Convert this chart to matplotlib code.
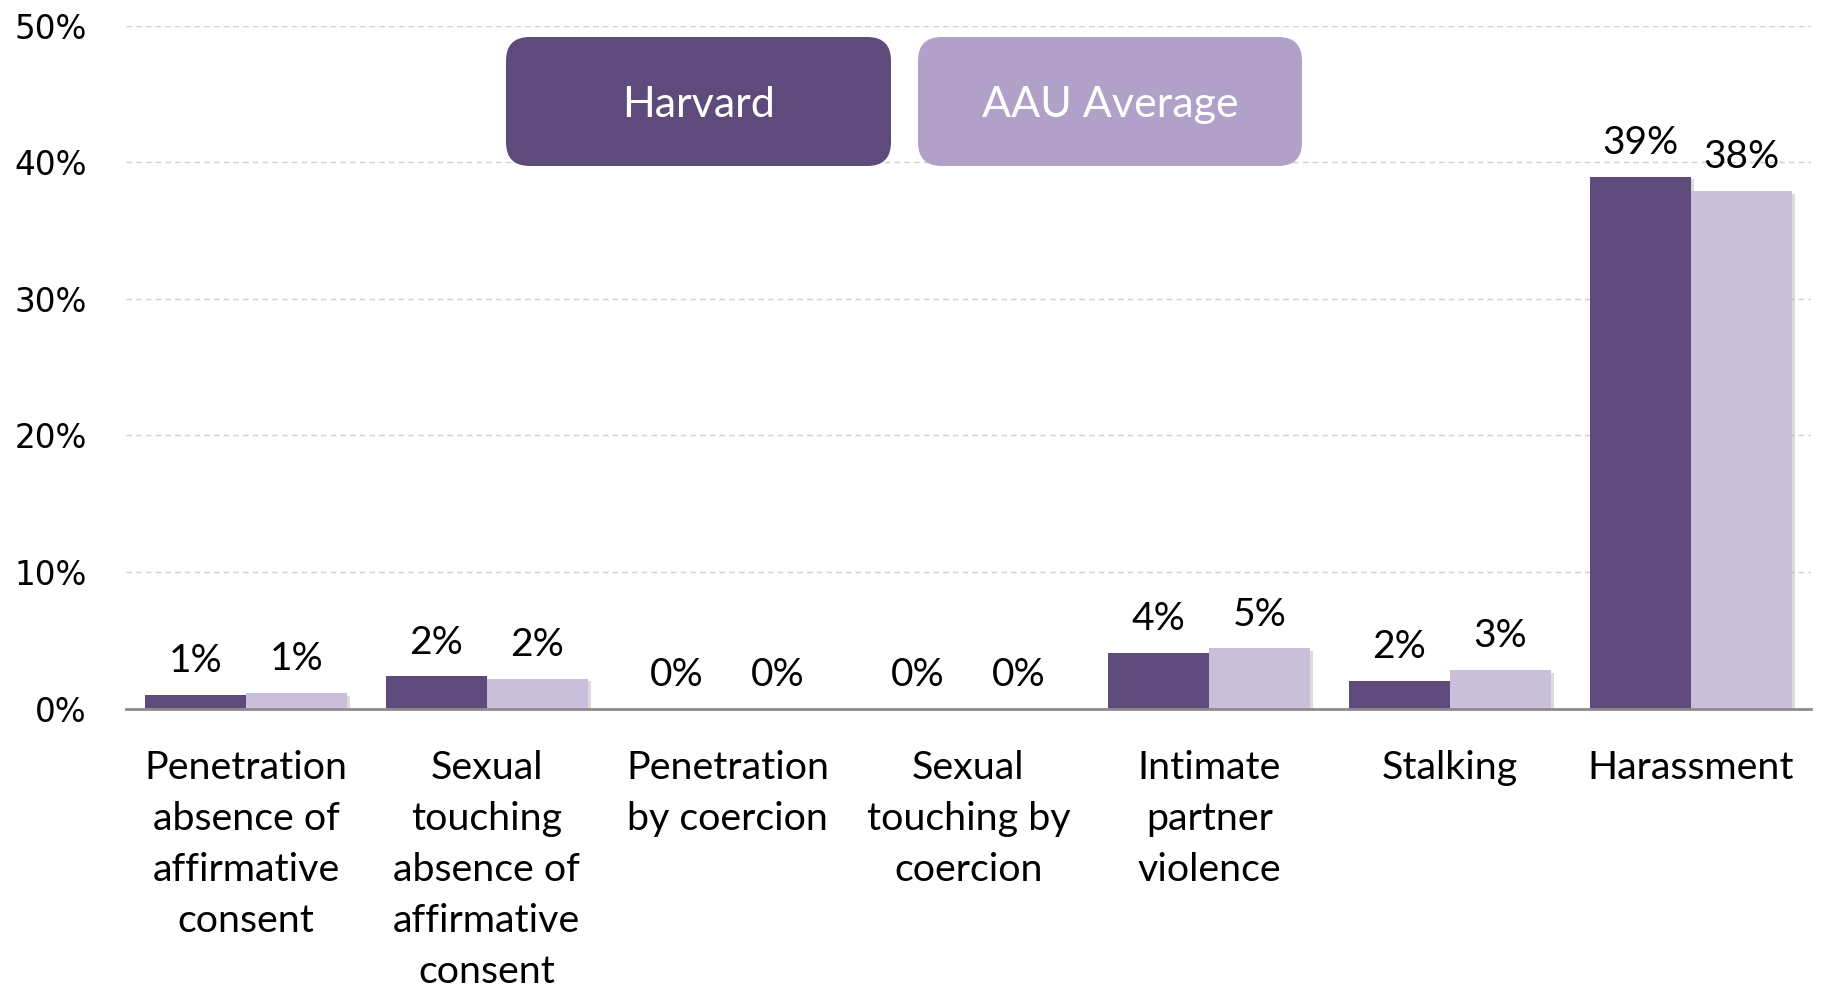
import matplotlib
matplotlib.use("Agg")
import matplotlib.pyplot as plt
import numpy as np
from matplotlib.patches import FancyBboxPatch
from matplotlib.ticker import FuncFormatter
import matplotlib.patheffects as pe

categories = ["Penetration\nabsence of\naffirmative\nconsent",
              "Sexual\ntouching\nabsence of\naffirmative\nconsent",
              "Penetration\nby coercion",
              "Sexual\ntouching by\ncoercion",
              "Intimate\npartner\nviolence",
              "Stalking",
              "Harassment"]
harvard = [1.0, 2.35, 0.0, 0.0, 4.05, 2.0, 38.95]
aau = [1.15, 2.2, 0.0, 0.0, 4.4, 2.8, 37.9]
harvard_labels = ["1%", "2%", "0%", "0%", "4%", "2%", "39%"]
aau_labels = ["1%", "2%", "0%", "0%", "5%", "3%", "38%"]
series_names = ["Harvard", "AAU Average"]
yticks = [0, 10, 20, 30, 40, 50]

dark = "#5F4B7B"
light_bar = "#C9BFDA"
light_box = "#B1A0C7"

fig = plt.figure(figsize=(18.24, 9.91), dpi=100)
ax = fig.add_axes([0.0689, 0.285, 0.9241, 0.689])

x = np.arange(len(categories))
w = 0.42
shadow = [pe.SimplePatchShadow(offset=(2, -2), shadow_rgbFace="#999999", alpha=0.35), pe.Normal()]
b1 = ax.bar(x - w / 2, harvard, width=w, color=dark, zorder=3)
b2 = ax.bar(x + w / 2, aau, width=w, color=light_bar, zorder=3)
for b in list(b1) + list(b2):
    b.set_path_effects(shadow)

lab_font = dict(family=["Lato", "DejaVu Sans"], fontsize=28, color="black")
for xi, v, t in zip(x - w / 2, harvard, harvard_labels):
    ax.annotate(t, (xi, v), xytext=(0, 11.5), textcoords="offset points",
                ha="center", va="bottom", **lab_font)
for xi, v, t in zip(x + w / 2, aau, aau_labels):
    ax.annotate(t, (xi, v), xytext=(0, 11.5), textcoords="offset points",
                ha="center", va="bottom", **lab_font)

ax.set_xlim(-0.5, len(categories) - 0.5)
ax.set_ylim(0, 50)
ax.set_yticks(yticks)
ax.yaxis.set_major_formatter(FuncFormatter(lambda v, p: f"{int(v)}%"))
ax.grid(axis="y", color="#D0D0D0", linestyle=(0, (4, 3)), linewidth=1.0, zorder=0)
for s in ["top", "right", "left"]:
    ax.spines[s].set_visible(False)
ax.spines["bottom"].set_color("#8C8C8C")
ax.spines["bottom"].set_linewidth(2)
ax.spines["bottom"].set_zorder(4)
ax.tick_params(axis="y", length=0, pad=28, labelsize=23.5)
for t in ax.get_yticklabels():
    t.set_family(["DejaVu Sans"])
ax.set_xticks(x)
ax.set_xticklabels(categories, fontsize=28.4, family=["Lato", "DejaVu Sans"],
                   linespacing=1.52, va="top")
ax.tick_params(axis="x", length=0, pad=29.8)

# legend boxes (figure coordinates in pixels)
W, H = 1824, 991
boxes = [(506, 37, 891, 166, dark), (918, 37, 1302, 166, light_box)]
for (x0, y0, x1, y1, c), name in zip(boxes, series_names):
    bx = FancyBboxPatch((x0 / W, 1 - y1 / H), (x1 - x0) / W, (y1 - y0) / H,
                        boxstyle="round,pad=0,rounding_size=0.013",
                        transform=fig.transFigure, facecolor=c, edgecolor="none",
                        mutation_aspect=W / H, zorder=5)
    fig.add_artist(bx)
    fig.text((x0 + x1) / 2 / W, 1 - ((y0 + y1) / 2 + 3.5) / H, name, ha="center", va="center",
             color="white", fontsize=31, family=["Lato", "DejaVu Sans"], zorder=6)

fig.savefig("out.png", dpi=100)
